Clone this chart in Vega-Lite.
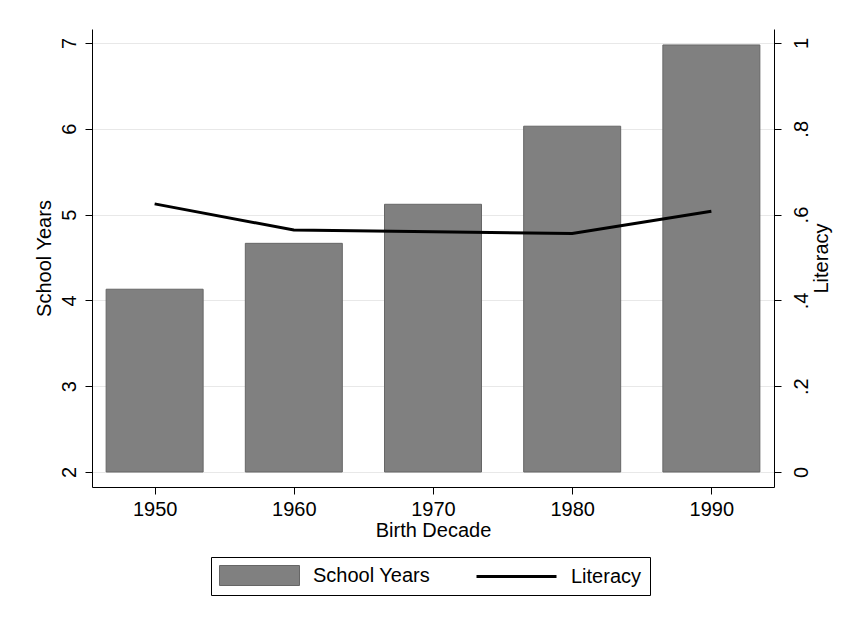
{
  "$schema": "https://vega.github.io/schema/vega-lite/v6.json",
  "autosize": "none",
  "width": 682,
  "height": 458,
  "padding": {"left": 92, "top": 29, "right": 73, "bottom": 132},
  "background": "white",
  "config": {
    "font": "Liberation Sans",
    "view": {"stroke": null},
    "axis": {
      "labelFont": "Liberation Sans",
      "titleFont": "Liberation Sans",
      "labelFontSize": 20,
      "titleFontSize": 20,
      "titleFontWeight": "normal",
      "labelColor": "#000",
      "titleColor": "#000",
      "domainColor": "#000",
      "tickColor": "#000",
      "tickSize": 7,
      "domainWidth": 1,
      "tickWidth": 1
    }
  },
  "data": {
    "values": [
      {"decade": 1950, "school": 4.13, "literacy": 0.625},
      {"decade": 1960, "school": 4.665, "literacy": 0.564},
      {"decade": 1970, "school": 5.12, "literacy": 0.56},
      {"decade": 1980, "school": 6.03, "literacy": 0.556},
      {"decade": 1990, "school": 6.977, "literacy": 0.608}
    ]
  },
  "encoding": {
    "x": {
      "field": "decade",
      "type": "quantitative",
      "scale": {"domain": [1945.5, 1994.5], "nice": false, "zero": false, "padding": 0},
      "axis": {
        "values": [1950, 1960, 1970, 1980, 1990],
        "format": "d",
        "grid": false,
        "labelPadding": 5,
        "title": "Birth Decade",
        "titlePadding": 1
      }
    }
  },
  "layer": [
    {
      "mark": {"type": "bar", "width": 97, "stroke": "#666666", "strokeWidth": 1, "opacity": 1},
      "encoding": {
        "y": {
          "field": "school",
          "type": "quantitative",
          "scale": {"domain": [1.825, 7.163], "nice": false, "zero": false},
          "axis": {
            "orient": "left",
            "values": [2, 3, 4, 5, 6, 7],
            "grid": true,
            "gridColor": "#e8e8e8",
            "gridWidth": 1,
            "labelAngle": -90,
            "labelAlign": "center",
            "labelBaseline": "alphabetic",
            "labelPadding": 10,
            "title": "School Years",
            "titleAngle": -90,
            "titlePadding": 5
          }
        },
        "y2": {"datum": 2},
        "fill": {
          "datum": "School Years",
          "scale": {"domain": ["School Years"], "range": ["#808080"]},
          "legend": {
            "orient": "none",
            "legendX": 119,
            "legendY": 528,
            "direction": "horizontal",
            "title": null,
            "padding": 8,
            "symbolType": "M-1,-1H7V1H-1Z",
            "symbolSize": 400,
            "symbolStrokeWidth": 1,
            "symbolStrokeColor": "#666666",
            "symbolOpacity": 1,
            "labelFontSize": 20,
            "labelColor": "#000",
            "labelFont": "Liberation Sans",
            "labelOffset": 73
          }
        }
      }
    },
    {
      "mark": {"type": "line", "strokeWidth": 3},
      "encoding": {
        "y": {
          "field": "literacy",
          "type": "quantitative",
          "scale": {"domain": [-0.035, 1.0326], "nice": false, "zero": false},
          "axis": {
            "orient": "right",
            "values": [0, 0.2, 0.4, 0.6, 0.8, 1],
            "labelExpr": "datum.value === 0 ? '0' : datum.value === 1 ? '1' : replace(format(datum.value, '.1f'), '0.', '.')",
            "grid": false,
            "labelAngle": -90,
            "labelAlign": "center",
            "labelBaseline": "top",
            "labelPadding": 10,
            "title": "Literacy",
            "titleAngle": -90,
            "titleBaseline": "top",
            "titlePadding": 0
          }
        },
        "stroke": {
          "datum": "Literacy",
          "scale": {"domain": ["Literacy"], "range": ["#000000"]},
          "legend": {
            "orient": "none",
            "legendX": 119,
            "legendY": 528,
            "direction": "horizontal",
            "title": null,
            "strokeColor": "#000",
            "fillColor": "transparent",
            "padding": 8,
            "symbolType": "M24.6,0H32.6",
            "symbolSize": 400,
            "symbolStrokeWidth": 3,
            "symbolStrokeColor": "#000000",
            "symbolFillColor": "transparent",
            "symbolOpacity": 1,
            "labelFontSize": 20,
            "labelColor": "#000",
            "labelFont": "Liberation Sans",
            "labelOffset": 329
          }
        }
      }
    }
  ],
  "resolve": {"scale": {"y": "independent"}}
}
